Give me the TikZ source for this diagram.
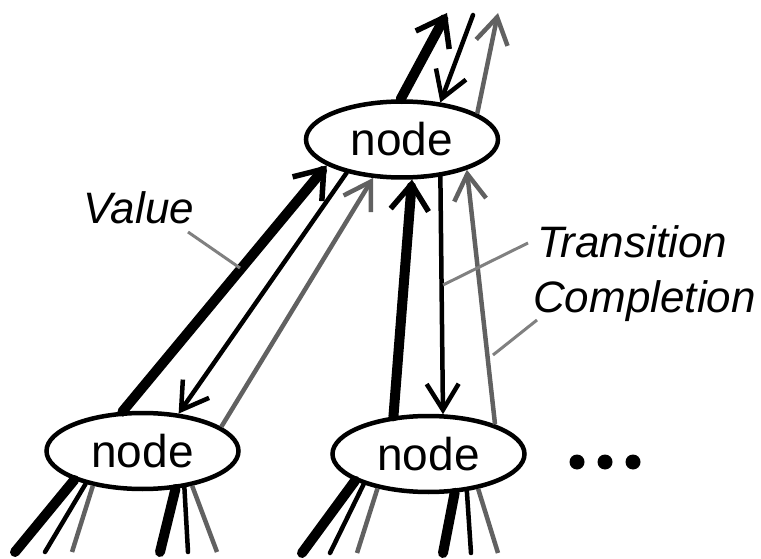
\documentclass[tikz,border=0pt]{standalone}
\usepackage{fontspec}
\setmainfont{Liberation Sans}
\usetikzlibrary{shapes.geometric,arrows.meta}
\definecolor{halftone}{gray}{0.38}
\definecolor{leadgray}{gray}{0.5}
\tikzset{
  tree/.style={ellipse, draw, line width=4.5pt, minimum width=192pt, minimum height=76pt, inner sep=0pt, font=\fontsize{46}{50}\selectfont},
  val/.style={line width=10pt, line cap=round},
  trans/.style={line width=4.5pt, line cap=round},
  comp/.style={line width=4.5pt, draw=halftone},
  valtip/.style={-{Straight Barb[length=26pt,width=38pt,line width=5.5pt]}},
  thintip/.style={-{Straight Barb[length=26pt,width=32pt,line width=4.5pt]}},
  lbl/.style={font=\fontsize{44}{50}\selectfont\itshape, inner sep=0pt, anchor=base west},
  leader/.style={line width=3pt, draw=leadgray},
}
\begin{document}
\begin{tikzpicture}[x=1pt,y=-1pt]
\useasboundingbox (0,0) rectangle (761,559);
% nodes
\node[tree] (top) at (402,139.5) {node};
\node[tree] (bl) at (142.5,451) {node};
\node[tree] (br) at (428.5,454) {node};
% free ends
\coordinate (tv) at (447,13);
\coordinate (tt) at (473,15);
\coordinate (tc) at (498,13);
\coordinate (l1) at (15,552);
\coordinate (l2) at (45,552);
\coordinate (l3) at (72,552);
\coordinate (l4) at (160,552);
\coordinate (l5) at (188,552);
\coordinate (l6) at (217,552);
\coordinate (r1) at (302,553);
\coordinate (r2) at (330,553);
\coordinate (r3) at (357,553);
\coordinate (r4) at (443,553);
\coordinate (r5) at (471,553);
\coordinate (r6) at (498,553);
% top node outgoing
\draw[val,valtip] (top.92) -- (tv);
\draw[trans,thintip] (tt) -- (top.44.6);
\draw[comp,thintip] (top.19.5) -- (tc);
% between top and bottom-left
\draw[val,valtip] (bl.117.7) -- (top.199.6);
\draw[trans,thintip] (top.211.7) -- (bl.46);
\draw[comp,thintip] (bl.17.5) -- (top.233);
% between top and bottom-right
\draw[val,valtip] (br.133.2) -- (top.284.5);
\draw[trans,thintip] (top.316.8) -- (br.70.5);
\draw[comp,thintip] (br.24.3) -- (top.335.3);
% below bottom-left
\draw[val] (bl.203.2) -- (l1);
\draw[trans] (bl.210) -- (l2);
\draw[comp] (bl.215.2) -- (l3);
\draw[val] (bl.311.5) -- (l4);
\draw[trans] (bl.319.4) -- (l5);
\draw[comp] (bl.325.9) -- (l6);
% below bottom-right
\draw[val] (br.200.9) -- (r1);
\draw[trans] (br.205.3) -- (r2);
\draw[comp] (br.214.4) -- (r3);
\draw[val] (br.304.8) -- (r4);
\draw[trans] (br.316) -- (r5);
\draw[comp] (br.325.1) -- (r6);
% dots
\node[circle, fill, inner sep=0pt, minimum size=15pt] (d1) at (577,462) {};
\node[circle, fill, inner sep=0pt, minimum size=15pt] (d2) at (605,462) {};
\node[circle, fill, inner sep=0pt, minimum size=15pt] (d3) at (633,462) {};
% labels
\node[lbl] (value) at (83,223) {Value};
\node[lbl] (transition) at (537,257) {Transition};
\node[lbl] (completion) at (533,312) {Completion};
\coordinate (vend) at (240,268);
\coordinate (vstart) at (188,232);
\coordinate (tstart) at (528,243);
\coordinate (tend) at (443,285);
\coordinate (cstart) at (537,320);
\coordinate (cend) at (493,355);
\draw[leader] (vstart) -- (vend);
\draw[leader] (tstart) -- (tend);
\draw[leader] (cstart) -- (cend);
\end{tikzpicture}
\end{document}
